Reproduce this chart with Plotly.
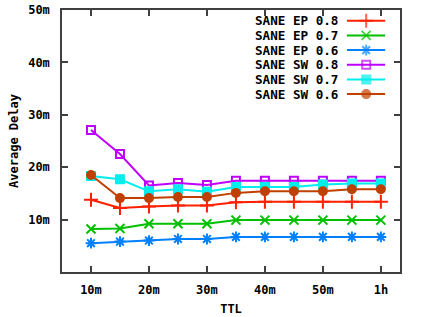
import plotly.graph_objects as go

ttl = [10, 15, 20, 25, 30, 35, 40, 45, 50, 55, 60]
x_tick_vals = [10, 20, 30, 40, 50, 60]
x_tick_text = ["10m", "20m", "30m", "40m", "50m", "1h"]
y_tick_vals = [10, 20, 30, 40, 50]
y_tick_text = ["10m", "20m", "30m", "40m", "50m"]

names = ["SANE EP 0.8", "SANE EP 0.7", "SANE EP 0.6",
         "SANE SW 0.8", "SANE SW 0.7", "SANE SW 0.6"]
ep08 = [13.8, 12.2, 12.5, 12.7, 12.7, 13.3, 13.4, 13.4, 13.4, 13.4, 13.4]
ep07 = [8.2, 8.3, 9.2, 9.2, 9.2, 9.9, 9.9, 9.9, 9.9, 9.9, 9.9]
ep06 = [5.5, 5.8, 6.0, 6.3, 6.3, 6.7, 6.7, 6.7, 6.7, 6.7, 6.7]
sw08 = [27.1, 22.5, 16.5, 17.0, 16.6, 17.4, 17.4, 17.4, 17.4, 17.4, 17.4]
sw07 = [18.3, 17.7, 15.4, 15.8, 15.3, 16.2, 16.2, 16.2, 16.7, 16.9, 16.9]
sw06 = [18.5, 14.1, 14.1, 14.3, 14.3, 15.1, 15.4, 15.4, 15.4, 15.8, 15.8]
series = [ep08, ep07, ep06, sw08, sw07, sw06]

colors = ["#ff2000", "#00c000", "#0080ff", "#c000ff", "#00eeee", "#c04000"]
symbols = ["cross-thin-open", "x-thin-open", "asterisk-open",
           "square-open", "square", "circle"]
sizes = [10, 9, 9, 8, 8, 8]

mono = "DejaVu Sans Mono"

fig = go.Figure()
for name, ys, c, s, sz in zip(names, series, colors, symbols, sizes):
    fig.add_trace(go.Scatter(
        x=ttl, y=ys, name=name, mode="lines+markers", showlegend=False,
        line=dict(color=c, width=2),
        marker=dict(symbol=s, size=sz, color=c, line=dict(color=c, width=2)),
    ))

# gnuplot-style legend: text on the left, sample on the right
row_y = [0.959, 0.903, 0.847, 0.791, 0.735, 0.679]
for name, c, s, sz, yy in zip(names, colors, symbols, sizes, row_y):
    fig.add_trace(go.Scatter(
        x=[0.843, 0.90, 0.956], y=[yy, yy, yy], xaxis="x2", yaxis="y2",
        mode="lines+markers", showlegend=False, hoverinfo="skip",
        line=dict(color=c, width=2),
        marker=dict(symbol=s, size=[0, sz, 0], color=c,
                    line=dict(color=c, width=2)),
    ))
    fig.add_annotation(x=0.822, y=yy, xref="paper", yref="paper",
                       text="<b>%s</b>" % name, showarrow=False,
                       xanchor="right", yanchor="middle",
                       font=dict(family=mono, size=12.6, color="black"))

axis_common = dict(showline=True, linecolor="#404040", linewidth=1.5,
                   mirror="ticks", ticks="inside", ticklen=6,
                   tickcolor="#404040", tickwidth=1.5, showgrid=False,
                   zeroline=False, automargin=False,
                   tickfont=dict(family=mono, size=12, color="black"))

fig.update_layout(
    width=423, height=317,
    margin=dict(l=62, r=23, t=10, b=45),
    plot_bgcolor="white", paper_bgcolor="white",
    font=dict(family=mono, size=12, color="black"),
    xaxis=dict(range=[5, 63.3], tickvals=x_tick_vals,
               ticktext=["<b>%s</b>" % t for t in x_tick_text],
               title=dict(text="<b>TTL</b>", standoff=8,
                          font=dict(family=mono, size=12)),
               ticklabelstandoff=6, **axis_common),
    yaxis=dict(range=[0, 50], tickvals=y_tick_vals,
               ticktext=["<b>%s</b>" % t for t in y_tick_text],
               title=dict(text="<b>Average Delay</b>", standoff=7,
                          font=dict(family=mono, size=12)),
               ticklabelstandoff=8, **axis_common),
    xaxis2=dict(range=[0, 1], overlaying="x", visible=False, fixedrange=True),
    yaxis2=dict(range=[0, 1], overlaying="y", visible=False, fixedrange=True),
)

fig.write_html("out.html", config={"displayModeBar": False},
               post_script="document.body.style.margin='0';"
                           "document.body.style.overflow='hidden';")
